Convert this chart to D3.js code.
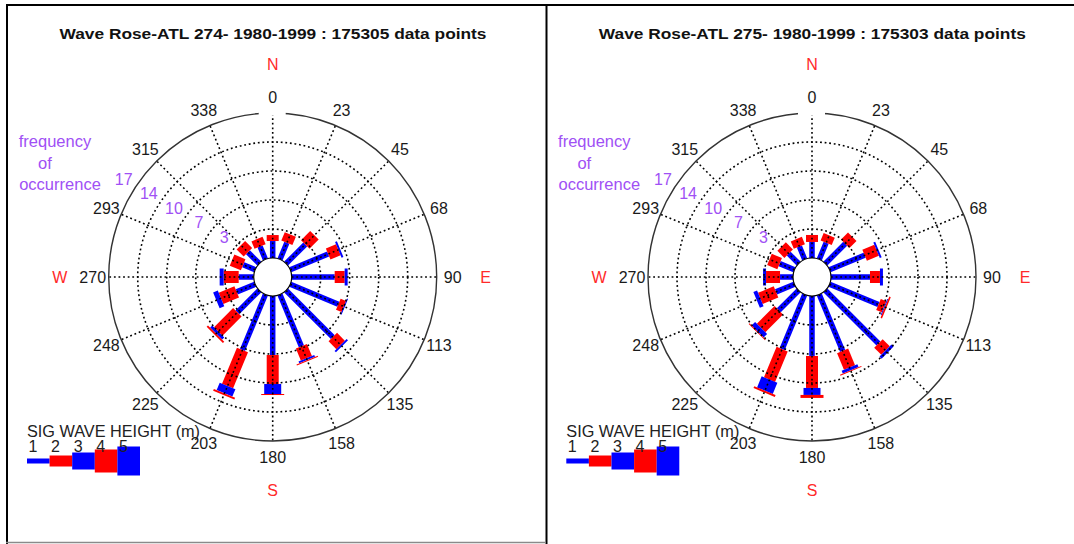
<!DOCTYPE html>
<html><head><meta charset="utf-8">
<script src="https://cdn.jsdelivr.net/npm/d3@7"></script>
<style>body{margin:0;background:#fff}svg{display:block}text{font-family:"Liberation Sans",Arial,sans-serif}</style>
</head><body>
<svg id="chart" width="1074" height="544"></svg>
<script>
// ---------- data ----------
const directions = [0,22.5,45,67.5,90,112.5,135,157.5,180,202.5,225,247.5,270,292.5,315,337.5];
const angleLabels = ["0","23","45","68","90","113","135","158","180","203","225","248","270","293","315","338"];
const compassLabels = ["N","E","S","W"];
const compassBearings = [0,90,180,270];
const ringValues = [3.4,6.8,10.2,13.6,17];
const ringLabels = ["3","7","10","14","17"];
const heightClasses = ["1","2","3","4","5"];
const titles = ["Wave Rose-ATL 274- 1980-1999 : 175305 data points",
                "Wave Rose-ATL 275- 1980-1999 : 175303 data points"];

// frequency of occurrence (%) per direction, per significant wave height class
const atl274_h1 = [1.99,2.11,3.17,4.81,5.04,6.10,7.74,6.57,6.92,7.03,3.63,2.34,1.76,1.52,1.88,1.64];
const atl274_h2 = [0.70,1.06,1.52,1.29,1.17,0.70,1.29,1.52,3.40,4.57,3.17,1.99,1.76,1.41,1.17,0.94];
const atl274_h3 = [0,0,0,0.23,0.35,0.12,0.23,0.23,1.17,0.94,0.35,0.59,0.47,0,0,0];
const atl274_h4 = [0,0,0,0,0,0,0,0.12,0.12,0.23,0.23,0,0,0,0,0];
const atl274_h5 = [0,0,0,0,0,0,0,0,0,0,0,0,0,0,0,0];

const atl275_h1 = [1.88,2.11,3.28,4.45,4.57,6.21,8.79,7.15,7.03,6.92,3.28,2.34,1.52,1.88,1.64,1.64];
const atl275_h2 = [0.82,0.94,1.17,1.52,1.17,0.70,1.17,2.11,3.75,3.87,2.93,1.99,1.64,1.29,1.17,0.94];
const atl275_h3 = [0,0,0,0.23,0.35,0.12,0.35,0.35,0.82,1.41,0.59,0.47,0.35,0,0,0];
const atl275_h4 = [0,0,0,0,0,0.18,0,0.12,0.35,0.23,0.12,0,0,0,0,0];
const atl275_h5 = [0,0,0,0,0,0,0,0,0,0,0,0,0,0,0,0];

const stations = [
  [atl274_h1, atl274_h2, atl274_h3, atl274_h4, atl274_h5],
  [atl275_h1, atl275_h2, atl275_h3, atl275_h4, atl275_h5]
];

// ---------- styles / layout ----------
const classColors = ["#0000ff","#ff0000","#0000ff","#ff0000","#0000ff"];
const classWidths = [5.5, 12, 17, 23, 29];
const legendWidths = [5, 11, 17, 23, 29];
const panelOffsets = [0, 539.3];
const cx0 = 272.7, cy0 = 277;
const purple = "#a050f5";
const labelRed = "#ff2a2a";
const dotStyle = sel => sel.attr("stroke","#000").attr("stroke-width",1.6).attr("stroke-dasharray","1.8,2.8");

const svg = d3.select("#chart");

// panel frames
svg.append("line").attr("x1",7).attr("y1",4).attr("x2",7).attr("y2",544).attr("stroke","#000").attr("stroke-width",2);
svg.append("line").attr("x1",6).attr("y1",5).attr("x2",1074).attr("y2",5).attr("stroke","#000").attr("stroke-width",2);
svg.append("line").attr("x1",546.5).attr("y1",4).attr("x2",546.5).attr("y2",544).attr("stroke","#000").attr("stroke-width",2);
svg.append("line").attr("x1",6).attr("y1",542.5).attr("x2",546).attr("y2",542.5).attr("stroke","#8a8a8a").attr("stroke-width",1.5);

const r = d3.scaleLinear().domain([0, 17]).range([19, 164]);
const rad = b => (b - 90) * Math.PI / 180;
const px = (b, rr) => rr * Math.cos(rad(b));
const py = (b, rr) => rr * Math.sin(rad(b));

stations.forEach((classes, si) => {
  const ox = panelOffsets[si];
  const panel = svg.append("g");
  // title
  panel.append("text").attr("x", ox + 273).attr("y", 38.5)
    .attr("text-anchor","middle").attr("font-size","15.5px").attr("font-weight","bold")
    .attr("fill","#111").attr("textLength", 427).attr("lengthAdjust","spacingAndGlyphs")
    .text(titles[si]);

  const g = panel.append("g").attr("transform", `translate(${ox + cx0},${cy0})`);

  // bars
  directions.forEach((b, i) => {
    let cum = 0;
    classes.forEach((arr, k) => {
      const v = arr[i];
      if (!v) return;
      const r0 = r(cum), r1 = r(cum + v);
      cum += v;
      g.append("rect").attr("transform", `rotate(${b})`)
        .attr("x", -classWidths[k] / 2).attr("y", -r1)
        .attr("width", classWidths[k]).attr("height", r1 - r0)
        .attr("fill", classColors[k]);
    });
  });

  // grid: dotted rings and spokes
  ringValues.slice(0, -1).forEach(v => {
    g.append("circle").attr("r", r(v)).attr("fill","none").call(dotStyle);
  });
  directions.forEach(b => {
    g.append("line").attr("x1", px(b, r(0))).attr("y1", py(b, r(0)))
      .attr("x2", px(b, r(17))).attr("y2", py(b, r(17))).call(dotStyle);
  });
  // outer circle
  g.append("circle").attr("r", r(17)).attr("fill","none").attr("stroke","#333").attr("stroke-width",1.4);
  g.append("rect").attr("x",-14).attr("y",-r(17)-6).attr("width",27).attr("height",8.5).attr("fill","#fff");
  // inner circle
  g.append("circle").attr("r", r(0)).attr("fill","#fff").attr("stroke","#000").attr("stroke-width",1.2);

  // angle labels
  directions.forEach((b, i) => {
    g.append("text").attr("x", px(b, 180)).attr("y", py(b, 180))
      .attr("text-anchor","middle").attr("dominant-baseline","central")
      .attr("font-size","16px").attr("fill","#1a1a1a").text(angleLabels[i]);
  });
  // compass letters
  compassBearings.forEach((b, i) => {
    g.append("text").attr("x", px(b, 213)).attr("y", py(b, 213))
      .attr("text-anchor","middle").attr("dominant-baseline","central")
      .attr("font-size","16px").attr("fill", labelRed).text(compassLabels[i]);
  });
  // radial labels
  ringValues.forEach((v, i) => {
    g.append("text").attr("x", px(300, r(v)) - 7).attr("y", py(300, r(v)) - 16)
      .attr("text-anchor","middle").attr("dominant-baseline","central")
      .attr("font-size","16px").attr("fill", purple).text(ringLabels[i]);
  });

  // "frequency of occurrence"
  const fo = panel.append("g").attr("fill", purple).attr("font-size","16.5px").attr("text-anchor","middle");
  fo.append("text").attr("x", ox + 55).attr("y", 147).text("frequency");
  fo.append("text").attr("x", ox + 45).attr("y", 169).text("of");
  fo.append("text").attr("x", ox + 60).attr("y", 190).text("occurrence");

  // legend
  const lg = panel.append("g");
  lg.append("text").attr("x", ox + 27).attr("y", 437).attr("font-size","16px").attr("fill","#222")
    .attr("textLength", 173).attr("lengthAdjust","spacingAndGlyphs").text("SIG WAVE HEIGHT (m)");
  const lx = d3.scaleBand().domain(heightClasses).range([ox + 27, ox + 140]);
  heightClasses.forEach((c, k) => {
    lg.append("rect").attr("x", lx(c)).attr("y", 461 - legendWidths[k] / 2)
      .attr("width", lx.bandwidth()).attr("height", legendWidths[k]).attr("fill", classColors[k]);
    lg.append("text").attr("x", lx(c) + 1.5).attr("y", 452).attr("font-size","16px").attr("fill","#222").text(c);
  });
});
</script>
</body></html>
